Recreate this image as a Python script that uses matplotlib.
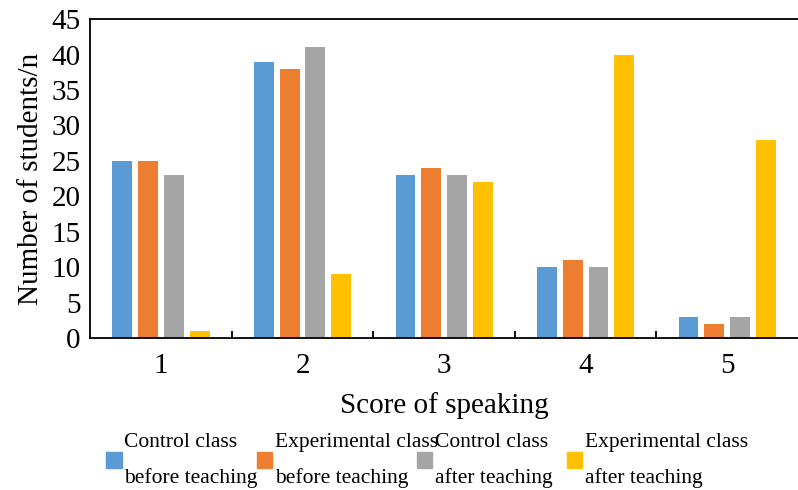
import numpy as np
import matplotlib.pyplot as plt
from matplotlib.patches import Patch

plt.rcParams['font.family'] = ['Liberation Serif', 'DejaVu Serif']

scores = ['1', '2', '3', '4', '5']
control_before = [25, 39, 23, 10, 3]
experimental_before = [25, 38, 24, 11, 2]
control_after = [23, 41, 23, 10, 3]
experimental_after = [1, 9, 22, 40, 28]

series = [control_before, experimental_before, control_after, experimental_after]
labels = ['Control class\nbefore teaching', 'Experimental class\nbefore teaching',
          'Control class\nafter teaching', 'Experimental class\nafter teaching']
colors = ['#5B9BD5', '#ED7D31', '#A5A5A5', '#FFC000']


def figure():
    fig = plt.figure(figsize=(7.98, 4.9), dpi=100)
    ax = fig.add_axes([0.113, 0.31, 0.887, 0.651])
    x = np.arange(len(scores)) + 0.5
    step = 0.182
    width = 0.14
    for i, (vals, c) in enumerate(zip(series, colors)):
        ax.bar(x + (i - 1.5) * step, vals, width, color=c)

    ax.set_xlim(0, 5)
    ax.set_ylim(0, 45)
    ax.set_yticks(np.arange(0, 46, 5))
    ax.set_xticks(x)
    ax.set_xticklabels(scores)
    ax.set_xticks([1, 2, 3, 4], minor=True)
    ax.tick_params(axis='x', which='major', length=0, pad=11, labelsize=21)
    ax.tick_params(axis='x', which='minor', direction='in', length=5, width=1.3)
    ax.tick_params(axis='y', length=0, pad=7, labelsize=21)
    ax.spines['right'].set_visible(False)
    for s in ['left', 'top', 'bottom']:
        ax.spines[s].set_linewidth(1.3)
    ax.set_ylabel('Number of students/n', fontsize=21, labelpad=5)
    ax.set_xlabel('Score of speaking', fontsize=21, labelpad=9)

    # legend entries placed one by one like the original
    xs = [0.133, 0.322, 0.522, 0.71]
    for i in range(4):
        h = Patch(color=colors[i])
        leg = fig.legend(handles=[h], labels=[labels[i]], loc='center left',
                         bbox_to_anchor=(xs[i], 0.06), frameon=False,
                         handlelength=0.72, handleheight=0.72, handletextpad=0.12,
                         borderpad=0, borderaxespad=0, fontsize=15.5)
        for t in leg.get_texts():
            t.set_linespacing(2.05)

    fig.savefig('out.png', dpi=100)


figure()
